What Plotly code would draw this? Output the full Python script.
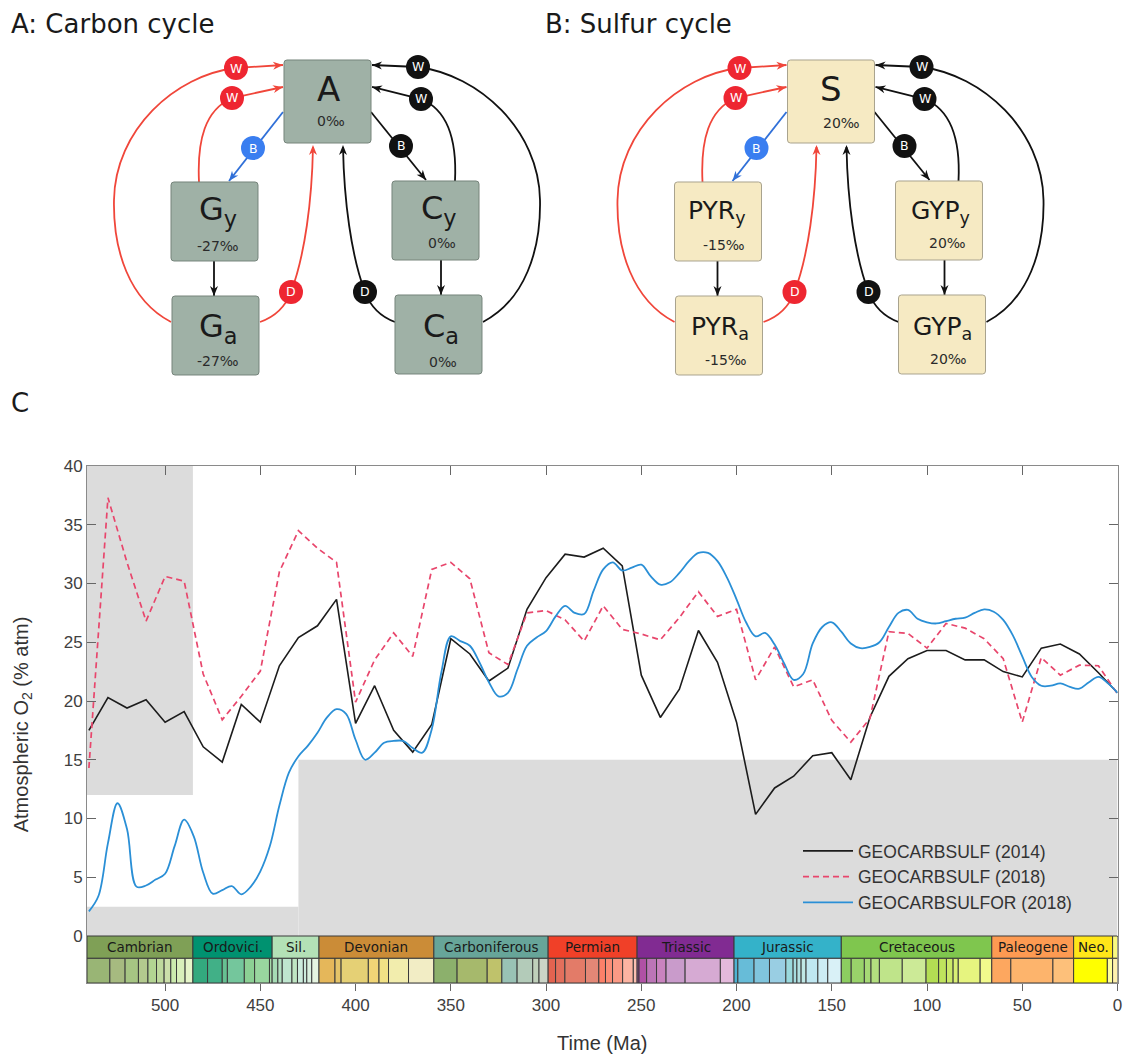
import math
import plotly.graph_objects as go

W, H = 1125, 1055

# ---------------- data ----------------
age_10myr = list(range(540, -1, -10))
o2_geocarbsulf_2014 = [17.5, 20.3, 19.4, 20.1, 18.2, 19.1, 16.1, 14.8, 19.7, 18.2,
                       23.0, 25.4, 26.4, 28.65, 18.1, 21.3, 17.5, 15.65, 18.0, 25.3,
                       24.0, 21.7, 22.8, 27.8, 30.5, 32.5, 32.25, 33.0, 31.5, 22.2,
                       18.6, 21.0, 26.0, 23.3, 18.2, 10.35, 12.6, 13.6, 15.35, 15.6,
                       13.3, 18.6, 22.1, 23.6, 24.3, 24.3, 23.5, 23.5, 22.5, 22.05,
                       24.5, 24.85, 24.0, 22.4, 20.7]
o2_geocarbsulf_2018 = [14.3, 37.3, 31.8, 26.8, 30.6, 30.2, 22.3, 18.4, 20.4, 22.55,
                       31.0, 34.5, 33.0, 31.8, 19.9, 23.5, 25.8, 23.8, 31.2, 31.8,
                       30.4, 24.1, 23.1, 27.5, 27.7, 26.9, 25.1, 28.1, 26.1, 25.7,
                       25.2, 27.1, 29.3, 27.2, 27.8, 21.8, 24.6, 21.2, 21.8, 18.35,
                       16.5, 18.5, 25.9, 25.75, 24.5, 26.6, 26.2, 25.3, 23.6, 18.2,
                       23.7, 22.2, 23.05, 23.0, 20.6]
age_5myr = list(range(540, -1, -5))
o2_geocarbsulfor_2018 = [2.1, 3.4, 7.9, 11.3, 9.1, 4.2, 4.3, 4.8, 5.3, 7.65,
                         9.9, 8.5, 5.4, 3.6, 3.9, 4.25, 3.55, 4.2, 5.5, 7.65,
                         11.1, 13.9, 15.3, 16.2, 17.3, 18.6, 19.3, 18.9, 16.7, 15.0,
                         15.6, 16.45, 16.6, 16.6, 16.0, 15.6, 17.6, 22.4, 25.5, 25.1,
                         24.7, 23.3, 21.6, 20.4, 20.7, 22.7, 24.7, 25.4, 25.95, 27.2,
                         28.1, 27.5, 27.4, 29.4, 31.2, 31.8, 31.1, 31.35, 31.6, 30.6,
                         29.9, 30.1, 30.9, 31.9, 32.6, 32.6, 31.9, 30.5, 28.65, 26.7,
                         25.5, 25.8, 24.8, 23.2, 21.8, 22.3, 24.9, 26.3, 26.7, 25.9,
                         24.9, 24.5, 24.6, 25.0, 26.3, 27.5, 27.75, 27.0, 26.7, 26.6,
                         26.8, 27.0, 27.1, 27.5, 27.8, 27.6, 26.9, 25.6, 23.8, 22.05,
                         21.3, 21.3, 21.5, 21.2, 21.05, 21.6, 22.05, 21.5, 20.7]
series_names = ["GEOCARBSULF (2014)", "GEOCARBSULF (2018)", "GEOCARBSULFOR (2018)"]

x_tick_values = list(range(0, 501, 50))
y_tick_values = list(range(0, 41, 5))

# shaded constraint regions: (old age, young age, low O2, high O2)
shade_regions = [(541, 485.4, 12, 40), (541, 430, 0, 2.5), (430, 0, 0, 15)]

period_labels = ["Cambrian", "Ordovici.", "Sil.", "Devonian", "Carboniferous", "Permian",
                 "Triassic", "Jurassic", "Cretaceous", "Paleogene", "Neo.", ""]
period_bounds = [541, 485.4, 443.8, 419.2, 358.9, 298.9, 252.2, 201.3, 145.0, 66.0, 23.03, 2.58, 0.0]
period_colors = ["#7FA056", "#009270", "#B3E1B6", "#CB8C37", "#67A599", "#F04028",
                 "#812B92", "#34B2C9", "#7FC64E", "#FD9A52", "#FFE619", "#F9F97F"]

stage_bounds = [541, 529, 521, 514, 509, 504.5, 500.5, 497, 494, 489.5,
                485.4, 477.7, 470.0, 467.3, 458.4, 453.0, 445.2,
                443.8, 440.8, 438.5, 433.4, 430.5, 427.4, 425.6, 423.0,
                419.2, 410.8, 407.6, 393.3, 387.7, 382.7, 372.2,
                358.9, 346.7, 330.9, 323.2, 315.2, 307.0, 303.7,
                298.9, 295.0, 290.1, 279.3, 272.3, 268.8, 265.1, 259.8, 254.2,
                252.2, 251.2, 247.2, 242.0, 237.0, 227.0, 208.5,
                201.3, 199.3, 190.8, 182.7, 174.1, 170.3, 168.3, 166.1, 163.5, 157.3, 152.1,
                145.0, 139.8, 132.9, 129.4, 125.0, 113.0, 100.5, 93.9, 89.8, 86.3, 83.6, 72.1,
                66.0, 56.0, 33.9,
                23.03, 5.333,
                2.58, 0.0]
stage_colors = ["#99B575", "#A6BA80", "#A6C583", "#B3CA8E", "#B3D492", "#BFD99D", "#CCDFAA", "#CCEBAE", "#D9F0BB", "#E6F5C9",
                "#33A97E", "#41B087", "#66C092", "#74C69C", "#8CD094", "#99D69F", "#A6DBAB",
                "#A6DCB5", "#B3E1C2", "#BFE6CF", "#BFE6C3", "#CCECDD", "#CCECDD", "#D9F0DF", "#E6F5E1",
                "#E5B75A", "#E5C468", "#E5D075", "#F1D576", "#F1E185", "#F2EDAD", "#F2EDC5",
                "#8CB06C", "#A6B96C", "#BFC26B", "#99C2B5", "#B3CBB9", "#BFD0BA", "#CCD4C7",
                "#E36350", "#E36F5C", "#E37B68", "#E38776", "#FB8069", "#FB8D76", "#FB9A85", "#FCB4A2", "#FCC0B2",
                "#A4469F", "#B051A5", "#BC75B7", "#C983BF", "#C99BCB", "#D6AAD3", "#E3B9DB",
                "#4EB3D3", "#67BCD8", "#80C5DD", "#99CEE3", "#9AD9DD", "#A6DDE0", "#B3E2E3", "#BFE7E5", "#BFE7F1", "#CCECF4", "#D9F1F7",
                "#8CCD60", "#99D36A", "#A6D975", "#B3DF7F", "#BFE48A", "#CCEA97", "#B3DE53", "#BFE35D", "#CCE968", "#D9EF74", "#E6F47F", "#F2FA8C",
                "#FDA75F", "#FDB46C", "#FDC07A",
                "#FFFF00", "#FFFF99",
                "#FFF2AE"]

# box diagram texts
carbon_boxes = [("A", "0‰"), ("G<sub>y</sub>", "-27‰"), ("G<sub>a</sub>", "-27‰"),
                ("C<sub>y</sub>", "0‰"), ("C<sub>a</sub>", "0‰")]
sulfur_boxes = [("S", "20‰"), ("PYR<sub>y</sub>", "-15‰"), ("PYR<sub>a</sub>", "-15‰"),
                ("GYP<sub>y</sub>", "20‰"), ("GYP<sub>a</sub>", "20‰")]

# ---------------- figure ----------------
fig = go.Figure()
fig.add_trace(go.Scatter(x=age_10myr, y=o2_geocarbsulf_2014, mode="lines", name=series_names[0],
                         line=dict(color="#1c1c1c", width=1.6)))
fig.add_trace(go.Scatter(x=age_10myr, y=o2_geocarbsulf_2018, mode="lines", name=series_names[1],
                         line=dict(color="#e8466c", width=1.7, dash="6px,4px")))
fig.add_trace(go.Scatter(x=age_5myr, y=o2_geocarbsulfor_2018, mode="lines", name=series_names[2],
                         line=dict(color="#2a8fd6", width=1.8, shape="spline", smoothing=1.0)))
fig.add_trace(go.Scatter(x=[None], y=[None], xaxis="x2", showlegend=False, hoverinfo="skip"))

shapes = []
annotations = []

for x0, x1, y0, y1 in shade_regions:
    shapes.append(dict(type="rect", xref="x", yref="y", x0=x0, x1=x1, y0=y0, y1=y1,
                       fillcolor="#dcdcdc", line=dict(width=0), layer="below"))

# geologic time scale
for i, lab in enumerate(period_labels):
    a, b = period_bounds[i], period_bounds[i + 1]
    shapes.append(dict(type="rect", xref="x", yref="y", x0=a, x1=b, y0=-1.9, y1=0,
                       fillcolor=period_colors[i], line=dict(width=1, color="#3a3a3a")))
    if lab:
        annotations.append(dict(xref="x", yref="y", x=(a + b) / 2, y=-0.95, text=lab, showarrow=False,
                                font=dict(family="DejaVu Sans", size=13.5, color="#1a1a1a")))
for i, col in enumerate(stage_colors):
    a, b = stage_bounds[i], stage_bounds[i + 1]
    shapes.append(dict(type="rect", xref="x", yref="y", x0=a, x1=b, y0=-4, y1=-1.9,
                       fillcolor=col, line=dict(width=1, color="#3a3a3a")))

# ---------------- box diagrams (paper coords, pixel helpers) ----------------
def X(x):
    return x / W

def Y(y):
    return 1 - y / H

def pstr(pt):
    return f"{X(pt[0]):.5f},{Y(pt[1]):.5f}"

def path_of(cmds):
    return " ".join(c + " ".join(pstr(p) for p in pts) for c, pts in cmds)

def rrect(x0, y0, x1, y1, r=3):
    return (f"M{pstr((x0 + r, y0))} L{pstr((x1 - r, y0))} Q{pstr((x1, y0))} {pstr((x1, y0 + r))} "
            f"L{pstr((x1, y1 - r))} Q{pstr((x1, y1))} {pstr((x1 - r, y1))} L{pstr((x0 + r, y1))} "
            f"Q{pstr((x0, y1))} {pstr((x0, y1 - r))} L{pstr((x0, y0 + r))} Q{pstr((x0, y0))} {pstr((x0 + r, y0))} Z")

def arrow_head(tip, frm, color, L=10, Wd=8):
    dx, dy = tip[0] - frm[0], tip[1] - frm[1]
    n = math.hypot(dx, dy)
    ux, uy = dx / n, dy / n
    bx, by = tip[0] - ux * L, tip[1] - uy * L
    nx, ny = -uy, ux
    p1 = (bx + nx * Wd / 2, by + ny * Wd / 2)
    p2 = (bx - nx * Wd / 2, by - ny * Wd / 2)
    mid = (tip[0] - ux * L * 0.7, tip[1] - uy * L * 0.7)
    return dict(type="path", xref="paper", yref="paper",
                path=f"M{pstr(tip)} L{pstr(p1)} L{pstr(mid)} L{pstr(p2)} Z",
                fillcolor=color, line=dict(width=0))

RED_LINE, RED_DOT = "#f0463a", "#ee2631"
BLUE_LINE, BLUE_DOT = "#3070d8", "#3a7ef0"
BLACK = "#111111"

box_geom = [(284, 60, 371, 143), (171, 182, 258, 261), (172, 296, 259, 375),
            (392, 181, 479, 260), (395, 295, 482, 374)]


def draw_cycle(dx, fill, edge, texts, label_pos, value_pos, big_sizes):
    def p(x, y):
        return (x + dx, y)
    curves = [
        (RED_LINE, [("M", [p(171, 322)]), ("C", [p(129, 300), p(113, 250), p(114, 200)]),
                    ("C", [p(115, 130), p(175, 75), p(236, 68)]), ("L", [p(283, 65)])], p(283, 65), p(236, 68)),
        (RED_LINE, [("M", [p(199, 182)]), ("C", [p(197, 140), p(205, 110), p(232, 98)]), ("L", [p(283, 87)])],
         p(283, 87), p(232, 98)),
        (BLUE_LINE, [("M", [p(283, 112)]), ("L", [p(229, 181)])], p(229, 181), p(283, 112)),
        (RED_LINE, [("M", [p(260, 322)]), ("C", [p(280, 315), p(288, 300), p(291, 292)]),
                    ("C", [p(305, 255), p(312, 200), p(313, 147)])], p(313, 145), p(313, 190)),
        (BLACK, [("M", [p(395, 322)]), ("C", [p(376, 315), p(368, 300), p(365, 292)]),
                 ("C", [p(351, 255), p(344, 200), p(343, 147)])], p(343, 145), p(343, 190)),
        (BLACK, [("M", [p(371, 112)]), ("L", [p(426, 180)])], p(426, 180), p(371, 112)),
        (BLACK, [("M", [p(455, 181)]), ("C", [p(457, 140), p(448, 110), p(421, 99)]), ("L", [p(372, 87)])],
         p(372, 87), p(421, 99)),
        (BLACK, [("M", [p(483, 322)]), ("C", [p(525, 300), p(541, 250), p(540, 200)]),
                 ("C", [p(539, 130), p(479, 75), p(418, 67)]), ("L", [p(372, 65)])], p(372, 65), p(418, 67)),
        (BLACK, [("M", [p(214, 261)]), ("L", [p(214, 296)])], p(214, 296), p(214, 261)),
        (BLACK, [("M", [p(441, 260)]), ("L", [p(441, 295)])], p(441, 295), p(441, 260)),
    ]
    for col, cmds, tip, frm in curves:
        shapes.append(dict(type="path", xref="paper", yref="paper", path=path_of(cmds),
                           line=dict(color=col, width=1.8)))
        shapes.append(arrow_head(tip, frm, col))
    dots = [(236, 68, RED_DOT, "W"), (232, 98, RED_DOT, "W"), (253, 148, BLUE_DOT, "B"),
            (291, 292, RED_DOT, "D"), (365, 292, BLACK, "D"), (401, 146, BLACK, "B"),
            (421, 99, BLACK, "W"), (418, 67, BLACK, "W")]
    r = 12
    for cx, cy, col, letter in dots:
        cx += dx
        shapes.append(dict(type="circle", xref="paper", yref="paper", x0=X(cx - r), x1=X(cx + r),
                           y0=Y(cy + r), y1=Y(cy - r), fillcolor=col, line=dict(width=0)))
        annotations.append(dict(xref="paper", yref="paper", x=X(cx), y=Y(cy), text=letter, showarrow=False,
                                xanchor="center", yanchor="middle",
                                font=dict(family="DejaVu Sans", size=12.5, color="white")))
    for (x0, y0, x1, y1) in box_geom:
        shapes.append(dict(type="path", xref="paper", yref="paper", path=rrect(x0 + dx, y0, x1 + dx, y1),
                           fillcolor=fill, line=dict(color=edge, width=1)))
    for (big, val), (lx, ly), (vx, vy), bs in zip(texts, label_pos, value_pos, big_sizes):
        annotations.append(dict(xref="paper", yref="paper", x=X(lx), y=Y(ly), text=big, showarrow=False,
                                xanchor="center", yanchor="middle",
                                font=dict(family="DejaVu Sans", size=bs, color="#1a1a1a")))
        annotations.append(dict(xref="paper", yref="paper", x=X(vx), y=Y(vy), text=val, showarrow=False,
                                xanchor="center", yanchor="middle",
                                font=dict(family="DejaVu Sans", size=14, color="#2a2a2a")))


draw_cycle(0, "#9fb1a6", "#76847b", carbon_boxes,
           [(328, 89), (218, 211), (218, 328), (439, 210), (441, 328)],
           [(331, 121), (218, 246), (218, 361), (442, 243), (443, 362)],
           [34, 32, 32, 32, 32])
draw_cycle(503.5, "#f6eac3", "#a9a38e", sulfur_boxes,
           [(831, 89), (717, 212), (720, 328), (940, 212), (942, 328)],
           [(841, 123), (724, 245), (726, 360), (947, 243), (949, 359)],
           [34, 25, 25, 25, 25])

for txt, x, y in [("A: Carbon cycle", 9, 24), ("B: Sulfur cycle", 543, 24), ("C", 9, 403)]:
    annotations.append(dict(xref="paper", yref="paper", x=X(x), y=Y(y), text=txt, showarrow=False,
                            xanchor="left", yanchor="middle",
                            font=dict(family="DejaVu Sans", size=26, color="#1a1a1a")))

tick_font = dict(family="Liberation Sans", size=17, color="#404040")
fig.update_layout(
    width=W, height=H, margin=dict(l=0, r=0, t=0, b=0),
    paper_bgcolor="white", plot_bgcolor="white",
    showlegend=True,
    legend=dict(x=798 / W, xanchor="left", y=1 - 833 / H, yanchor="top", bgcolor="rgba(0,0,0,0)",
                borderwidth=0, font=dict(family="Liberation Sans", size=17.5, color="#333333"),
                itemwidth=50),
    xaxis=dict(domain=[87 / W, 1117.5 / W], range=[541, 0], tickvals=x_tick_values, ticks="outside",
               ticklen=7, tickcolor="#666666", showline=True, linecolor="#8a8a8a", linewidth=1, mirror=True,
               showgrid=False, zeroline=False, tickfont=tick_font, automargin=False,
               title=dict(text="Time (Ma)", font=dict(family="Liberation Sans", size=20, color="#333333"),
                          standoff=21)),
    xaxis2=dict(overlaying="x", side="top", anchor="y", range=[541, 0], tickvals=x_tick_values,
                ticks="inside", ticklen=9, tickcolor="#666666", showticklabels=False, showgrid=False,
                zeroline=False, showline=False),
    yaxis=dict(domain=[1 - 983 / H, 1 - 466 / H], range=[-4, 40], tickvals=y_tick_values, ticks="inside",
               ticklen=9, tickcolor="#666666", showline=True, linecolor="#8a8a8a", linewidth=1,
               mirror="ticks", showgrid=False, zeroline=False, tickfont=tick_font, automargin=False,
               title=dict(text="Atmospheric O<sub>2</sub> (% atm)",
                          font=dict(family="Liberation Sans", size=20, color="#333333"), standoff=29)),
    shapes=shapes, annotations=annotations,
)

fig.write_html("out.html", config={"displayModeBar": False},
               post_script="document.body.style.margin='0';")
